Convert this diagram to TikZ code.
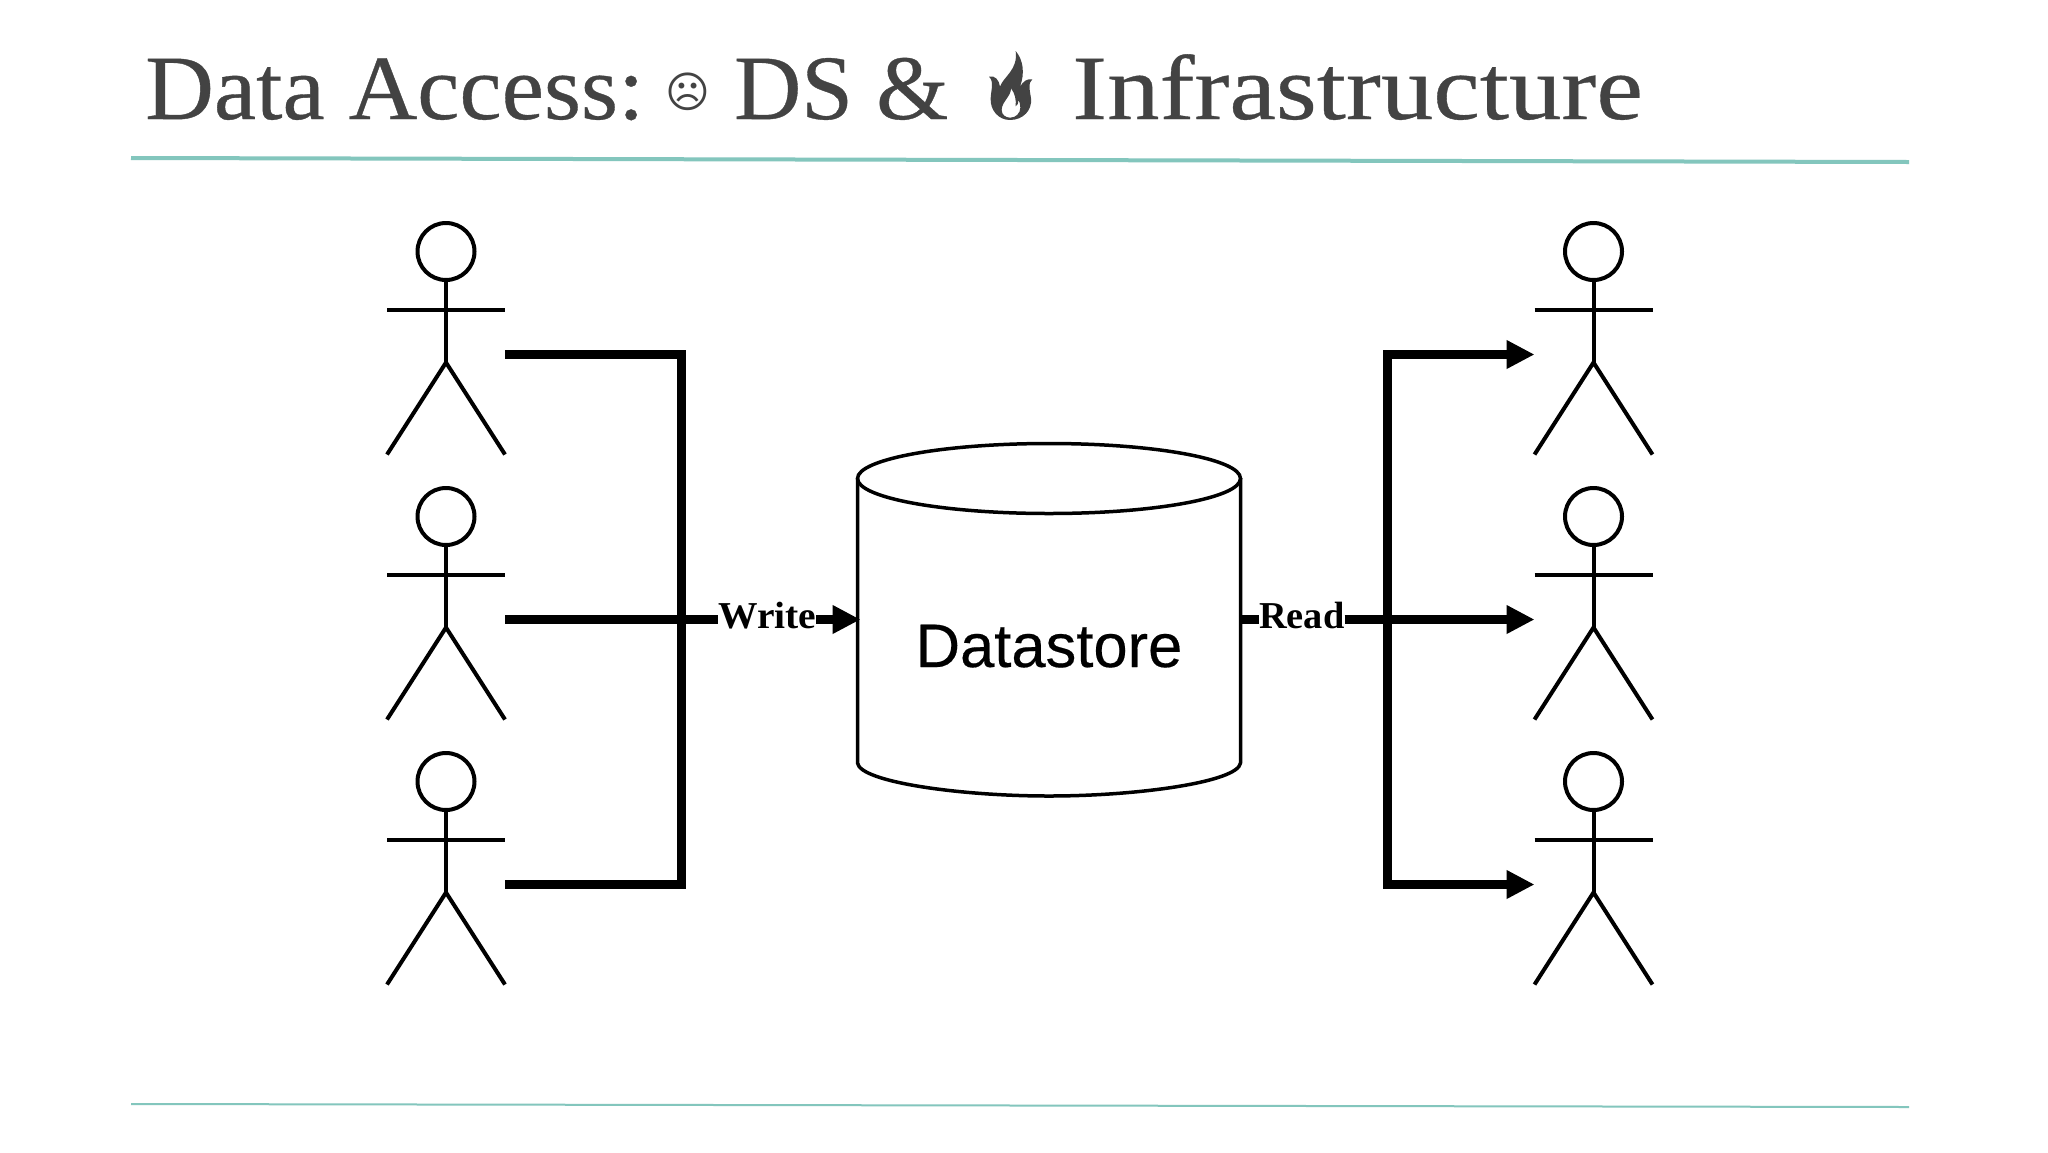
\documentclass[tikz,border=0pt]{standalone}
\usepackage{fontspec}
\usetikzlibrary{arrows.meta}
\setmainfont{Liberation Serif}
\newfontfamily\titleA[FakeStretch=1.034,FakeBold=0.4]{Liberation Serif}
\newfontfamily\titleB[FakeStretch=1.01,FakeBold=0.4]{Liberation Serif}
\newfontfamily\titleC[FakeStretch=1.14,FakeBold=0.4]{Liberation Serif}
\newfontfamily\flowfont[FakeStretch=1.04]{Liberation Serif}
\newfontfamily\readfont[FakeStretch=1.01]{Liberation Serif}
\newfontfamily\symfont{DejaVu Sans}
\newfontfamily\sansf[FakeBold=0.3]{Liberation Sans}
\definecolor{titlegrey}{HTML}{434343}
\definecolor{teal}{HTML}{83C6BD}
\tikzset{
  x=1pt,y=-1pt,
  title/.style={anchor=base west,inner sep=0pt,text=titlegrey},
  rule/.style={draw=teal},
  figline/.style={line width=4pt,black},
  head/.style={circle,draw,line width=4pt,minimum size=57pt,inner sep=0pt,outer sep=0pt},
  flow/.style={line width=9pt,black},
  flowtip/.style={flow,-{Triangle[length=28pt,width=27pt]}},
  flowlabel/.style={anchor=base west,inner sep=0pt},
  actor/.pic={
    \node[head] (-head) at (0,0) {};
    \draw[figline] (-head.south) -- (0,111);
    \draw[figline] (-59,58.5) -- (59,58.5);
    \draw[figline] (-59,203) -- (0,111) -- (59,203);
    \coordinate (-rh) at (59,103);
    \coordinate (-lh) at (-59,103);
  }
}
\begin{document}
\begin{tikzpicture}
\useasboundingbox[fill=white] (0,0) rectangle (2048,1152);

% title
\node[title,font=\titleA\fontsize{92}{92}\selectfont] (t1) at (145,119) {Data Access:};
\node[text=titlegrey,inner sep=0pt,font=\symfont\fontsize{43}{43}\selectfont] (t2) at (688,91.5) {☹};
\node[title,font=\titleB\fontsize{92}{92}\selectfont] (t3) at (734,119) {DS \&};
\node[title,font=\titleC\fontsize{92}{92}\selectfont] (t4) at (1072,119) {Infrastructure};
% flame icon
\begin{scope}[shift={(975,45)},x=0.3333pt,y=-0.3333pt]
\fill[titlegrey,even odd rule]
  (122,18) .. controls (145,45) and (150,85) .. (135,125)
  .. controls (145,108) and (158,100) .. (172,103)
  .. controls (158,112) and (165,140) .. (168,160)
  .. controls (172,195) and (145,225) .. (105,225)
  .. controls (70,225) and (45,195) .. (47,160)
  .. controls (48,135) and (58,110) .. (42,95)
  .. controls (60,90) and (72,105) .. (75,125)
  .. controls (85,95) and (130,75) .. (122,18) -- cycle
  (108,130) .. controls (108,155) and (80,170) .. (80,195)
  .. controls (80,210) and (92,218) .. (106,218)
  .. controls (122,218) and (136,205) .. (136,188)
  .. controls (136,178) and (134,170) .. (130,165)
  .. controls (130,175) and (127,182) .. (122,184)
  .. controls (124,165) and (120,145) .. (108,130) -- cycle;
\end{scope}
% rules
\draw[rule,line width=4pt] (131,158) -- (1909,162);
\draw[rule,line width=2pt] (131,1104) -- (1909,1107);

% actors
\pic (a1) at (446,251.5) {actor};
\pic (a2) at (446,516.5) {actor};
\pic (a3) at (446,781.5) {actor};
\pic (b1) at (1593.5,251.5) {actor};
\pic (b2) at (1593.5,516.5) {actor};
\pic (b3) at (1593.5,781.5) {actor};

% datastore
\node[minimum width=383pt,minimum height=353pt,inner sep=0pt,outer sep=0pt] (ds) at (1049,619.5) {};
\draw[line width=3.5pt,line join=round] (857.5,478)
  -- (857.5,763) .. controls (860,782) and (960,796) .. (1049,796)
  .. controls (1138,796) and (1238,782) .. (1240.5,763) -- (1240.5,478);
\draw[line width=3.5pt] (1049,478.5) ellipse [x radius=191.5,y radius=35];
\node[anchor=base,inner sep=0pt,font=\sansf\fontsize{61.5}{61.5}\selectfont] (dsl) at (1049,667) {Datastore};

% connectors
\coordinate (jl) at (681,619.5);
\coordinate (jr) at (1387,619.5);
\coordinate (tipw) at ([xshift=3pt]ds.west);
\node[flowlabel,font=\flowfont\fontsize{38}{38}\selectfont\bfseries] (w) at (718,628) {Write};
\node[flowlabel,font=\readfont\fontsize{38}{38}\selectfont\bfseries] (r) at (1259,628) {Read};
\draw[flow] (a1-rh) -| (jl);
\draw[flow] (a3-rh) -| (jl);
\draw[flow] (a2-rh) -- (a2-rh -| w.west);
\draw[flowtip] (a2-rh -| w.east) -- (tipw);
\draw[flow] (a2-rh -| ds.east) -- (a2-rh -| r.west);
\draw[flowtip] (a2-rh -| r.east) -- (b2-lh);
\draw[flowtip] (jr) |- (b1-lh);
\draw[flowtip] (jr) |- (b3-lh);
\end{tikzpicture}
\end{document}
